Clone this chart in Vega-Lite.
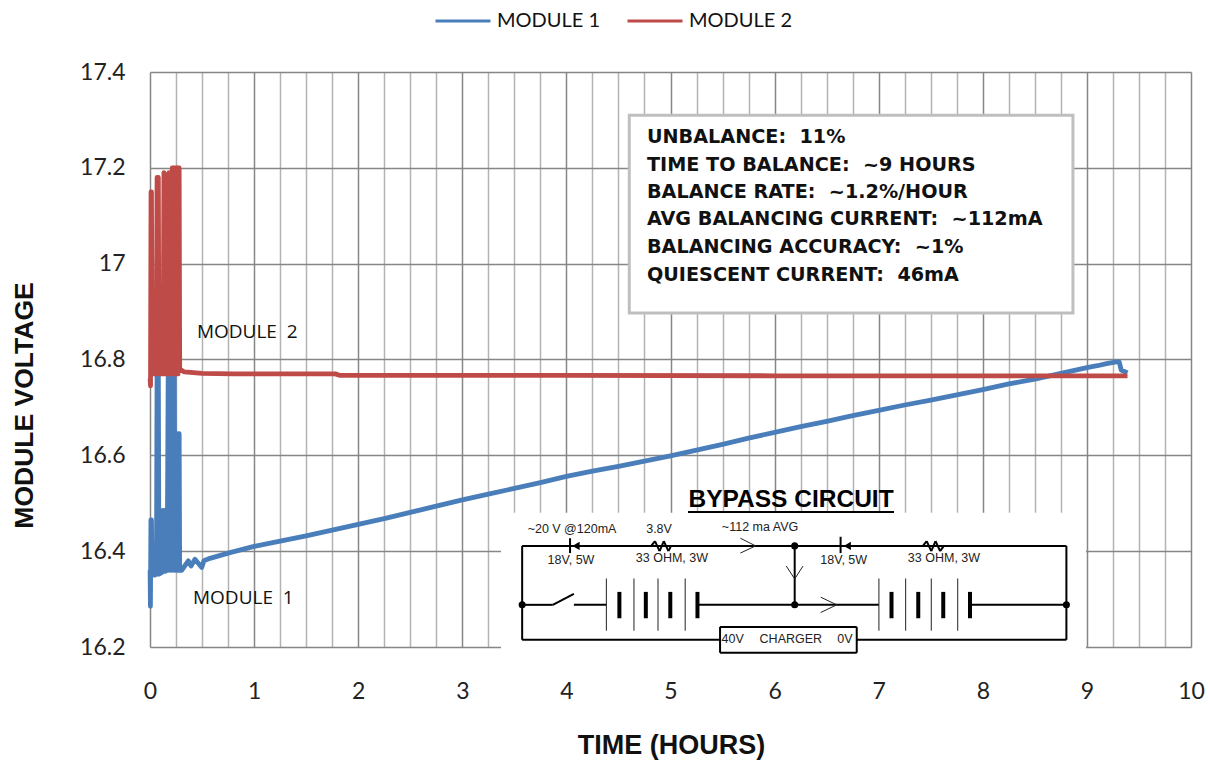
{
"$schema":"https://vega.github.io/schema/vega-lite/v6.json",
"width":1041,"height":575,
"autosize":{"type":"none"},
"padding":{"left":150,"top":72,"right":19,"bottom":114},
"background":"white",
"config":{"view":{"stroke":null}},
"datasets":{
"series":[
{"module":"MODULE 1","h":0.001,"v":16.36},{"module":"MODULE 1","h":0.004,"v":16.285},{"module":"MODULE 1","h":0.009,"v":16.465},{"module":"MODULE 1","h":0.014,"v":16.465},{"module":"MODULE 1","h":0.02,"v":16.355},{"module":"MODULE 1","h":0.045,"v":16.35},{"module":"MODULE 1","h":0.062,"v":16.352},{"module":"MODULE 1","h":0.068,"v":16.78},{"module":"MODULE 1","h":0.074,"v":16.352},{"module":"MODULE 1","h":0.08,"v":16.78},{"module":"MODULE 1","h":0.086,"v":16.352},{"module":"MODULE 1","h":0.118,"v":16.356},{"module":"MODULE 1","h":0.124,"v":16.485},{"module":"MODULE 1","h":0.13,"v":16.358},{"module":"MODULE 1","h":0.136,"v":16.485},{"module":"MODULE 1","h":0.146,"v":16.358},{"module":"MODULE 1","h":0.165,"v":16.36},{"module":"MODULE 1","h":0.175,"v":16.78},{"module":"MODULE 1","h":0.182,"v":16.36},{"module":"MODULE 1","h":0.19,"v":16.78},{"module":"MODULE 1","h":0.197,"v":16.36},{"module":"MODULE 1","h":0.205,"v":16.78},{"module":"MODULE 1","h":0.212,"v":16.36},{"module":"MODULE 1","h":0.22,"v":16.78},{"module":"MODULE 1","h":0.227,"v":16.36},{"module":"MODULE 1","h":0.233,"v":16.78},{"module":"MODULE 1","h":0.24,"v":16.36},{"module":"MODULE 1","h":0.262,"v":16.36},{"module":"MODULE 1","h":0.268,"v":16.645},{"module":"MODULE 1","h":0.274,"v":16.36},{"module":"MODULE 1","h":0.28,"v":16.645},{"module":"MODULE 1","h":0.285,"v":16.36},{"module":"MODULE 1","h":0.304,"v":16.36},{"module":"MODULE 1","h":0.336,"v":16.37},{"module":"MODULE 1","h":0.368,"v":16.38},{"module":"MODULE 1","h":0.394,"v":16.369},{"module":"MODULE 1","h":0.432,"v":16.383},{"module":"MODULE 1","h":0.497,"v":16.366},{"module":"MODULE 1","h":0.518,"v":16.38},{"module":"MODULE 1","h":0.576,"v":16.385},{"module":"MODULE 1","h":0.768,"v":16.397},{"module":"MODULE 1","h":1.0,"v":16.41},{"module":"MODULE 1","h":1.25,"v":16.421},{"module":"MODULE 1","h":1.5,"v":16.432},{"module":"MODULE 1","h":1.75,"v":16.444},{"module":"MODULE 1","h":2.0,"v":16.456},{"module":"MODULE 1","h":2.25,"v":16.468},{"module":"MODULE 1","h":2.5,"v":16.481},{"module":"MODULE 1","h":2.75,"v":16.494},{"module":"MODULE 1","h":3.0,"v":16.507},{"module":"MODULE 1","h":3.25,"v":16.519},{"module":"MODULE 1","h":3.5,"v":16.531},{"module":"MODULE 1","h":3.75,"v":16.543},{"module":"MODULE 1","h":4.0,"v":16.556},{"module":"MODULE 1","h":4.25,"v":16.567},{"module":"MODULE 1","h":4.5,"v":16.577},{"module":"MODULE 1","h":4.75,"v":16.588},{"module":"MODULE 1","h":5.0,"v":16.599},{"module":"MODULE 1","h":5.25,"v":16.611},{"module":"MODULE 1","h":5.5,"v":16.623},{"module":"MODULE 1","h":5.75,"v":16.636},{"module":"MODULE 1","h":6.0,"v":16.648},{"module":"MODULE 1","h":6.25,"v":16.66},{"module":"MODULE 1","h":6.5,"v":16.671},{"module":"MODULE 1","h":6.75,"v":16.683},{"module":"MODULE 1","h":7.0,"v":16.694},{"module":"MODULE 1","h":7.25,"v":16.705},{"module":"MODULE 1","h":7.5,"v":16.715},{"module":"MODULE 1","h":7.75,"v":16.726},{"module":"MODULE 1","h":8.0,"v":16.737},{"module":"MODULE 1","h":8.25,"v":16.749},{"module":"MODULE 1","h":8.5,"v":16.759},{"module":"MODULE 1","h":8.75,"v":16.771},{"module":"MODULE 1","h":9.0,"v":16.783},{"module":"MODULE 1","h":9.1,"v":16.787},{"module":"MODULE 1","h":9.2,"v":16.792},{"module":"MODULE 1","h":9.285,"v":16.795},{"module":"MODULE 1","h":9.31,"v":16.795},{"module":"MODULE 1","h":9.33,"v":16.778},{"module":"MODULE 1","h":9.36,"v":16.775},{"module":"MODULE 1","h":9.39,"v":16.772},
{"module":"MODULE 2","h":0.001,"v":16.76},{"module":"MODULE 2","h":0.005,"v":16.745},{"module":"MODULE 2","h":0.01,"v":17.15},{"module":"MODULE 2","h":0.014,"v":17.15},{"module":"MODULE 2","h":0.02,"v":16.77},{"module":"MODULE 2","h":0.06,"v":16.77},{"module":"MODULE 2","h":0.068,"v":17.18},{"module":"MODULE 2","h":0.074,"v":16.9},{"module":"MODULE 2","h":0.08,"v":17.18},{"module":"MODULE 2","h":0.086,"v":16.77},{"module":"MODULE 2","h":0.126,"v":16.77},{"module":"MODULE 2","h":0.134,"v":17.19},{"module":"MODULE 2","h":0.142,"v":16.77},{"module":"MODULE 2","h":0.15,"v":17.185},{"module":"MODULE 2","h":0.158,"v":16.77},{"module":"MODULE 2","h":0.166,"v":17.183},{"module":"MODULE 2","h":0.174,"v":16.77},{"module":"MODULE 2","h":0.182,"v":17.19},{"module":"MODULE 2","h":0.19,"v":16.77},{"module":"MODULE 2","h":0.198,"v":17.19},{"module":"MODULE 2","h":0.206,"v":16.77},{"module":"MODULE 2","h":0.214,"v":17.2},{"module":"MODULE 2","h":0.222,"v":16.77},{"module":"MODULE 2","h":0.23,"v":17.2},{"module":"MODULE 2","h":0.238,"v":16.77},{"module":"MODULE 2","h":0.246,"v":17.2},{"module":"MODULE 2","h":0.254,"v":16.77},{"module":"MODULE 2","h":0.262,"v":17.2},{"module":"MODULE 2","h":0.27,"v":16.77},{"module":"MODULE 2","h":0.276,"v":17.2},{"module":"MODULE 2","h":0.28,"v":17.2},{"module":"MODULE 2","h":0.285,"v":16.78},{"module":"MODULE 2","h":0.33,"v":16.774},{"module":"MODULE 2","h":0.5,"v":16.771},{"module":"MODULE 2","h":0.8,"v":16.77},{"module":"MODULE 2","h":1.0,"v":16.77},{"module":"MODULE 2","h":1.5,"v":16.77},{"module":"MODULE 2","h":1.78,"v":16.77},{"module":"MODULE 2","h":1.82,"v":16.767},{"module":"MODULE 2","h":2.5,"v":16.767},{"module":"MODULE 2","h":4.0,"v":16.767},{"module":"MODULE 2","h":6.0,"v":16.766},{"module":"MODULE 2","h":8.0,"v":16.766},{"module":"MODULE 2","h":9.39,"v":16.766}
],
"segments":[
{"part":"wire","h":3.575,"v":16.411,"h2":8.803,"v2":16.411},
{"part":"wire","h":3.575,"v":16.411,"h2":3.575,"v2":16.215},
{"part":"wire","h":8.803,"v":16.411,"h2":8.803,"v2":16.215},
{"part":"wire","h":3.575,"v":16.215,"h2":5.476,"v2":16.215},
{"part":"wire","h":6.789,"v":16.215,"h2":8.803,"v2":16.215},
{"part":"wire","h":3.575,"v":16.288,"h2":3.869,"v2":16.288},
{"part":"wire","h":3.869,"v":16.288,"h2":4.072,"v2":16.311},
{"part":"wire","h":4.072,"v":16.288,"h2":4.384,"v2":16.288},
{"part":"wire","h":5.259,"v":16.288,"h2":7.002,"v2":16.288},
{"part":"wire","h":7.877,"v":16.288,"h2":8.803,"v2":16.288},
{"part":"wire","h":6.193,"v":16.411,"h2":6.193,"v2":16.288},
{"part":"wire","h":4.035,"v":16.427,"h2":4.035,"v2":16.396},
{"part":"wire","h":6.634,"v":16.43,"h2":6.634,"v2":16.396},
{"part":"wire","h":4.815,"v":16.411,"h2":4.851,"v2":16.421},
{"part":"wire","h":4.851,"v":16.421,"h2":4.895,"v2":16.4},
{"part":"wire","h":4.895,"v":16.4,"h2":4.936,"v2":16.421},
{"part":"wire","h":4.936,"v":16.421,"h2":4.98,"v2":16.4},
{"part":"wire","h":4.98,"v":16.4,"h2":5.005,"v2":16.411},
{"part":"wire","h":7.425,"v":16.411,"h2":7.461,"v2":16.421},
{"part":"wire","h":7.461,"v":16.421,"h2":7.505,"v2":16.4},
{"part":"wire","h":7.505,"v":16.4,"h2":7.546,"v2":16.421},
{"part":"wire","h":7.546,"v":16.421,"h2":7.59,"v2":16.4},
{"part":"wire","h":7.59,"v":16.4,"h2":7.626,"v2":16.411},
{"part":"wire","h":5.476,"v":16.242,"h2":6.789,"v2":16.242},
{"part":"wire","h":5.476,"v":16.188,"h2":6.789,"v2":16.188},
{"part":"wire","h":5.476,"v":16.242,"h2":5.476,"v2":16.188},
{"part":"wire","h":6.789,"v":16.242,"h2":6.789,"v2":16.188},
{"part":"wire","h":5.168,"v":16.482,"h2":7.147,"v2":16.482},
{"part":"thin","h":5.671,"v":16.427,"h2":5.818,"v2":16.411},
{"part":"thin","h":5.818,"v":16.411,"h2":5.671,"v2":16.396},
{"part":"thin","h":6.112,"v":16.369,"h2":6.193,"v2":16.342},
{"part":"thin","h":6.193,"v":16.342,"h2":6.273,"v2":16.369},
{"part":"thin","h":6.443,"v":16.304,"h2":6.597,"v2":16.288},
{"part":"thin","h":6.597,"v":16.288,"h2":6.443,"v2":16.272},
{"part":"thin","h":4.384,"v":16.343,"h2":4.384,"v2":16.234},
{"part":"thin","h":4.649,"v":16.343,"h2":4.649,"v2":16.234},
{"part":"thin","h":4.88,"v":16.343,"h2":4.88,"v2":16.234},
{"part":"thin","h":5.141,"v":16.343,"h2":5.141,"v2":16.234},
{"part":"thin","h":7.002,"v":16.343,"h2":7.002,"v2":16.234},
{"part":"thin","h":7.259,"v":16.343,"h2":7.259,"v2":16.234},
{"part":"thin","h":7.505,"v":16.343,"h2":7.505,"v2":16.234},
{"part":"thin","h":7.759,"v":16.343,"h2":7.759,"v2":16.234},
{"part":"plate","h":4.509,"v":16.315,"h2":4.509,"v2":16.26},
{"part":"plate","h":4.763,"v":16.315,"h2":4.763,"v2":16.26},
{"part":"plate","h":4.998,"v":16.315,"h2":4.998,"v2":16.26},
{"part":"plate","h":5.259,"v":16.315,"h2":5.259,"v2":16.26},
{"part":"plate","h":7.123,"v":16.315,"h2":7.123,"v2":16.26},
{"part":"plate","h":7.38,"v":16.315,"h2":7.38,"v2":16.26},
{"part":"plate","h":7.62,"v":16.315,"h2":7.62,"v2":16.26},
{"part":"plate","h":7.877,"v":16.315,"h2":7.877,"v2":16.26}
],
"nodes":[{"h":3.575,"v":16.288},{"h":6.193,"v":16.411},{"h":6.193,"v":16.288},{"h":8.803,"v":16.288}],
"diodes":[{"h":4.092,"v":16.411},{"h":6.698,"v":16.411}],
"infoLines":[
{"label":"UNBALANCE:\u00a0\u00a011%","h":4.774,"v":17.264},
{"label":"TIME TO BALANCE:\u00a0\u00a0~9 HOURS","h":4.774,"v":17.206},
{"label":"BALANCE RATE:\u00a0\u00a0~1.2%/HOUR","h":4.774,"v":17.15},
{"label":"AVG BALANCING CURRENT:\u00a0\u00a0~112mA","h":4.774,"v":17.093},
{"label":"BALANCING ACCURACY:\u00a0\u00a0~1%","h":4.774,"v":17.035},
{"label":"QUIESCENT CURRENT:\u00a0\u00a046mA","h":4.774,"v":16.976}
],
"moduleLabels":[{"label":"MODULE\u00a0\u00a02","h":0.451,"v":16.857},{"label":"MODULE\u00a0\u00a01","h":0.413,"v":16.302}],
"circuitLabels":[
{"label":"~20 V @120mA","h":4.054,"v":16.446},
{"label":"3.8V","h":4.89,"v":16.446},
{"label":"~112 ma AVG","h":5.86,"v":16.45},
{"label":"18V, 5W","h":4.044,"v":16.382},
{"label":"33 OHM, 3W","h":5.014,"v":16.386},
{"label":"18V, 5W","h":6.664,"v":16.382},
{"label":"33 OHM, 3W","h":7.627,"v":16.386},
{"label":"40V","h":5.597,"v":16.217},
{"label":"CHARGER","h":6.156,"v":16.217},
{"label":"0V","h":6.676,"v":16.217}
]
},
"encoding":{
"x":{"field":"h","type":"quantitative","scale":{"domain":[0,10],"nice":false,"zero":false},
 "axis":{"title":"TIME (HOURS)","titleFont":"Liberation Sans","titleFontWeight":"bold","titleFontSize":27,"titleColor":"#111","titleX":521,"titleY":85,
 "values":[0,0.25,0.5,0.75,1,1.25,1.5,1.75,2,2.25,2.5,2.75,3,3.25,3.5,3.75,4,4.25,4.5,4.75,5,5.25,5.5,5.75,6,6.25,6.5,6.75,7,7.25,7.5,7.75,8,8.25,8.5,8.75,9,9.25,9.5,9.75,10],
 "labelExpr":"datum.value % 1 === 0 ? format(datum.value,'d') : ''","labelFont":"Lato","labelFontSize":23,"labelColor":"#222","labelPadding":33,"labelFontWeight":"normal","labelFlush":false,
 "domain":false,"ticks":false,"grid":true,"gridWidth":1.5,
 "gridColor":{"condition":{"test":"datum.value % 1 === 0","value":"#868686"},"value":"#b3b3b3"},"labelOverlap":false}},
"y":{"field":"v","type":"quantitative","scale":{"domain":[16.2,17.4],"nice":false,"zero":false},
 "axis":{"title":"MODULE VOLTAGE","titleFont":"Liberation Sans","titleFontWeight":"bold","titleFontSize":26.5,"titleColor":"#111","titleX":-112,"titleY":333,
 "values":[16.2,16.4,16.6,16.8,17,17.2,17.4],"format":"~g","labelFont":"Lato","labelFontSize":23,"labelColor":"#222","labelPadding":25,
 "domain":false,"ticks":false,"grid":true,"gridWidth":1.5,"gridColor":"#868686"}}
},
"layer":[
{"data":{"values":[{"h":3.372,"h2":8.991,"v":16.48,"v2":16.181}]},"mark":{"type":"rect","fill":"white","stroke":null},"encoding":{"x2":{"field":"h2"},"y2":{"field":"v2"}}},
{"data":{"values":[{"h":4.604,"h2":8.866,"v":17.31,"v2":16.897}]},"mark":{"type":"rect","fill":"white","stroke":"#bfbfbf","strokeWidth":3},"encoding":{"x2":{"field":"h2"},"y2":{"field":"v2"}}},
{"data":{"name":"series"},"mark":{"type":"line","strokeWidth":4.8,"strokeJoin":"round","clip":false},
 "encoding":{"color":{"field":"module","type":"nominal","scale":{"domain":["MODULE 1","MODULE 2"],"range":["#4a7ebb","#be4b48"]},
  "legend":{"orient":"none","legendX":284,"legendY":-80,"direction":"horizontal","title":null,"symbolType":"stroke","symbolSize":3025,"symbolStrokeWidth":3,"labelFont":"Lato","labelFontSize":20,"labelColor":"#111","labelOffset":5,"columnPadding":20,"symbolOpacity":1}}}},
{"data":{"name":"segments"},"transform":[{"filter":"datum.part === 'wire'"}],"mark":{"type":"rule","color":"#000","strokeWidth":2},"encoding":{"x2":{"field":"h2"},"y2":{"field":"v2"}}},
{"data":{"name":"segments"},"transform":[{"filter":"datum.part === 'thin'"}],"mark":{"type":"rule","color":"#222","strokeWidth":1},"encoding":{"x2":{"field":"h2"},"y2":{"field":"v2"}}},
{"data":{"name":"segments"},"transform":[{"filter":"datum.part === 'plate'"}],"mark":{"type":"rule","color":"#000","strokeWidth":4},"encoding":{"x2":{"field":"h2"},"y2":{"field":"v2"}}},
{"data":{"name":"nodes"},"mark":{"type":"point","shape":"circle","filled":true,"size":50,"color":"#000","opacity":1}},
{"data":{"name":"diodes"},"mark":{"type":"point","shape":"triangle-left","filled":true,"size":70,"color":"#000","opacity":1}},
{"data":{"name":"infoLines"},"mark":{"type":"text","align":"left","baseline":"middle","font":"DejaVu Sans","fontWeight":"bold","fontSize":19.2,"color":"#111"},"encoding":{"text":{"field":"label"}}},
{"data":{"name":"moduleLabels"},"mark":{"type":"text","align":"left","baseline":"middle","font":"Open Sans","fontSize":19,"color":"#111"},"encoding":{"text":{"field":"label"}}},
{"data":{"name":"circuitLabels"},"mark":{"type":"text","align":"center","baseline":"middle","font":"Liberation Sans","fontSize":12.5,"color":"#222"},"encoding":{"text":{"field":"label"}}},
{"data":{"values":[{"label":"BYPASS CIRCUIT","h":6.158,"v":16.507}]},"mark":{"type":"text","align":"center","baseline":"middle","font":"Liberation Sans","fontWeight":"bold","fontSize":24.5,"color":"#000"},"encoding":{"text":{"field":"label"}}}
]
}
